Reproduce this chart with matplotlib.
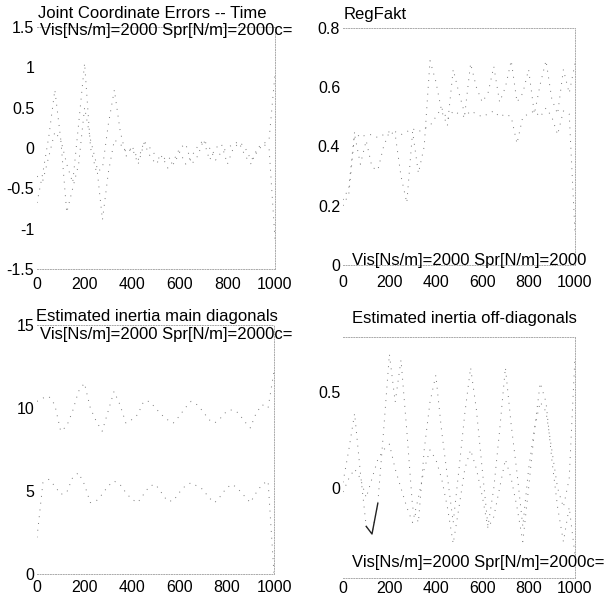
import numpy as np
import matplotlib
matplotlib.use('Agg')
import matplotlib.pyplot as plt

plt.rcParams['font.family'] = ['Liberation Sans', 'DejaVu Sans']

# time axis (samples)
t = [0, 25, 50, 75, 100, 125, 150, 175, 200, 225, 250, 275, 300, 325, 350,
     375, 400, 425, 450, 475, 500, 525, 550, 575, 600, 625, 650, 675, 700,
     725, 750, 775, 800, 825, 850, 875, 900, 925, 950, 975, 1000]

# joint coordinate errors
err1 = [-0.68, -0.30, 0.15, 0.72, 0.10, -0.20, -0.43, 0.30, 1.05, 0.00, -0.30,
        -0.25, 0.30, 0.72, 0.20, -0.10, 0.02, -0.15, 0.08, 0.00, -0.10, -0.15,
        -0.10, -0.20, -0.05, -0.20, -0.10, 0.02, 0.10, 0.00, -0.15, -0.05, 0.00,
        0.05, 0.08, 0.00, -0.15, -0.05, 0.05, 0.10, 0.92]
err2 = [-0.35, -0.40, -0.10, 0.20, 0.10, -0.80, -0.50, -0.20, 0.50, 0.10, -0.20,
        -0.89, -0.30, 0.10, 0.05, -0.05, 0.00, -0.20, 0.06, -0.10, -0.20, -0.10,
        -0.25, -0.15, 0.00, 0.05, -0.20, -0.10, 0.10, -0.15, 0.00, 0.05, -0.20,
        0.00, 0.06, -0.10, -0.20, 0.00, 0.05, 0.00, -1.13]

# RegFakt
reg1 = [0.20, 0.24, 0.44, 0.34, 0.42, 0.33, 0.32, 0.40, 0.45, 0.44, 0.30, 0.21,
        0.45, 0.31, 0.40, 0.69, 0.62, 0.52, 0.47, 0.66, 0.58, 0.51, 0.68, 0.60,
        0.55, 0.58, 0.67, 0.55, 0.60, 0.69, 0.55, 0.58, 0.66, 0.51, 0.61, 0.69,
        0.56, 0.51, 0.66, 0.58, 0.68]
reg2 = [0.22, 0.26, 0.45, 0.43, 0.44, 0.44, 0.43, 0.44, 0.45, 0.45, 0.44, 0.45,
        0.46, 0.45, 0.46, 0.47, 0.50, 0.53, 0.49, 0.52, 0.51, 0.50, 0.52, 0.51,
        0.50, 0.51, 0.52, 0.50, 0.51, 0.50, 0.41, 0.50, 0.51, 0.52, 0.50, 0.53,
        0.50, 0.44, 0.52, 0.51, 0.11]

# estimated inertia main diagonals
diag1 = [10.4, 10.6, 10.7, 10.2, 8.6, 8.9, 9.8, 11.0, 11.5, 10.0, 9.2, 8.6, 9.8,
         11.0, 10.2, 9.1, 9.3, 9.6, 10.4, 10.4, 10.0, 9.6, 9.3, 9.1, 9.5, 10.0,
         10.4, 10.2, 9.8, 9.3, 9.1, 9.4, 9.8, 9.9, 9.7, 9.2, 8.8, 9.7, 10.2,
         10.0, 12.2]
diag2 = [2.2, 5.5, 5.7, 5.3, 4.8, 4.9, 5.8, 6.1, 5.4, 4.3, 4.4, 4.8, 5.3, 5.6,
         5.4, 4.9, 4.5, 4.3, 4.8, 5.3, 5.4, 4.9, 4.4, 4.4, 4.9, 5.3, 5.5, 5.3,
         5.1, 4.6, 4.3, 4.7, 5.2, 5.4, 5.1, 4.7, 4.3, 4.9, 5.4, 5.6, 0.0]

# estimated inertia off-diagonals
offd1 = [0.03, 0.20, 0.39, 0.08, -0.20, -0.24, -0.08, 0.30, 0.70, 0.45, 0.67,
         0.30, -0.10, -0.18, 0.20, 0.45, 0.59, 0.30, 0.06, -0.18, 0.10, 0.39,
         0.63, 0.41, 0.10, -0.20, 0.00, 0.30, 0.63, 0.33, 0.08, -0.20, 0.10,
         0.31, 0.45, 0.40, 0.20, 0.00, -0.10, 0.05, 0.69]
offd2 = [-0.02, 0.05, 0.10, 0.05, -0.05, 0.05, 0.15, 0.20, 0.23, 0.10, 0.00,
         -0.10, -0.18, -0.05, 0.10, 0.20, 0.15, 0.05, -0.10, -0.29, -0.10, 0.10,
         0.20, 0.10, -0.04, -0.21, -0.15, 0.00, 0.15, 0.05, -0.10, -0.28, 0.00,
         0.30, 0.55, 0.45, 0.15, -0.10, -0.28, -0.10, -0.35]

subtitle = 'Vis[Ns/m]=2000 Spr[N/m]=2000c='

W, H = 605, 598
fig = plt.figure(figsize=(W / 100, H / 100), dpi=100)


def add_ax(left, right, top, bottom):
    return fig.add_axes([left / W, 1 - bottom / H, (right - left) / W, (bottom - top) / H])


def style(ax, xpad):
    for s in ['top', 'bottom', 'right']:
        ax.spines[s].set_linestyle(':')
        ax.spines[s].set_color('#aaaaaa')
        ax.spines[s].set_linewidth(0.7)
    ax.spines['left'].set_visible(False)
    ax.tick_params(length=0, labelsize=11.5)
    ax.tick_params(axis='y', pad=2)
    ax.tick_params(axis='x', pad=xpad)
    ax.set_xlim(0, 1000)
    ax.set_xticks([0, 200, 400, 600, 800, 1000])


def ftext(x, y, s, **kw):
    fig.text(x / W, 1 - y / H, s, fontsize=12, va='center', ha='left', **kw)


dot = dict(color='#777777', lw=0.7, ls=(0, (1, 6)))

# 1. joint errors
ax1 = add_ax(37, 275, 27, 269)
style(ax1, 6)
ax1.plot(t, err1, **dot)
ax1.plot(t, err2, **dot)
ax1.set_ylim(-1.5, 1.5)
ax1.set_yticks([-1.5, -1, -0.5, 0, 0.5, 1, 1.5])
ax1.set_yticklabels(['-1.5', '-1', '-0.5', '0', '0.5', '1', '1.5'])
ftext(38, 13, 'Joint Coordinate Errors -- Time')
ftext(40, 30, subtitle)

# 2. RegFakt
ax2 = add_ax(343, 575, 28, 265)
style(ax2, 7)
ax2.plot(t, reg1, **dot)
ax2.plot(t, reg2, **dot)
ax2.set_ylim(0, 0.8)
ax2.set_yticks([0, 0.2, 0.4, 0.6, 0.8])
ax2.set_yticklabels(['0', '0.2', '0.4', '0.6', '0.8'])
ftext(344, 14, 'RegFakt')
ftext(352, 261, 'Vis[Ns/m]=2000 Spr[N/m]=2000')

# 3. inertia main diagonals
ax3 = add_ax(37, 274, 325, 574)
style(ax3, 4)
ax3.plot(t, diag1, **dot)
ax3.plot(t, diag2, **dot)
ax3.set_ylim(0, 15)
ax3.set_yticks([0, 5, 10, 15])
ftext(36, 317, 'Estimated inertia main diagonals')
ftext(40, 335, subtitle)

# 4. inertia off-diagonals
ax4 = add_ax(343, 575, 337, 578)
style(ax4, 2)
ax4.plot(t, offd1, **dot)
ax4.plot(t, offd2, **dot)
ax4.plot(t[4:7], offd1[4:7], color='#222222', lw=1.0)
ax4.set_ylim(-0.47, 0.79)
ax4.set_yticks([0, 0.5])
ax4.set_yticklabels(['0', '0.5'])
ftext(352, 318, 'Estimated inertia off-diagonals')
ftext(352, 563, subtitle)

fig.savefig('out.png', dpi=100)
